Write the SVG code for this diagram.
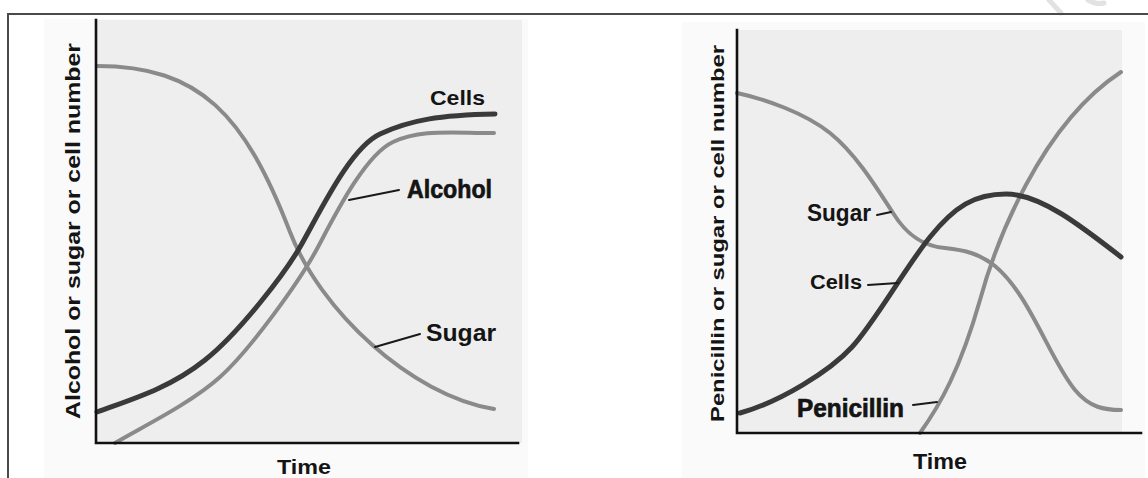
<svg xmlns="http://www.w3.org/2000/svg" width="1148" height="478" viewBox="0 0 1148 478">
  <style>
    .lbl { font-family: "Liberation Sans", Arial, sans-serif; font-weight: bold; fill: #141414; }
    .heavy { stroke: #141414; stroke-width: 0.7; }
    .axis { stroke: #111; stroke-width: 2.6; fill: none; stroke-linecap: square; }
    .dark { stroke: #3a3a3a; stroke-width: 5; fill: none; stroke-linecap: round; stroke-linejoin: round; }
    .light { stroke: #8a8a8a; stroke-width: 4; fill: none; stroke-linecap: round; stroke-linejoin: round; }
    .leader { stroke: #1a1a1a; stroke-width: 2; fill: none; stroke-linecap: round; }
    .faint { stroke: #e2e2e2; stroke-width: 5; fill: none; stroke-linecap: round; }
  </style>
  <rect x="0" y="0" width="1148" height="478" fill="#ffffff"/>
  <!-- faint marks at top right -->
  <g id="marks">
    <path class="faint" d="M1049,0 L1061,13"/>
    <path class="faint" stroke-width="4" d="M1088,0 Q1097,5 1104,3"/>
  </g>
  <!-- frame -->
  <g id="frame">
    <path d="M8,478 L8,14 L1148,14" stroke="#4a4a4a" stroke-width="2" fill="none"/>
  </g>

  <!-- LEFT CHART -->
  <g id="left-chart">
    <rect x="44" y="19" width="484" height="459" fill="#fafafa"/>
    <rect x="96" y="20" width="426" height="423" fill="#eeeeee"/>
    <g id="left-curves">
      <path id="left-sugar" class="light" d="M97,66 C200,66 245,115 290,232 C320,310 410,395 494,409"/>
      <path id="left-alcohol" class="light" d="M115,443 C140,428 190,404 220,377 C250,350 300,281 318,247 C335,215 365,155 393,142 C420,129 450,133 494,133"/>
      <path id="left-cells" class="dark" d="M97,412 C133,399 170,388 205,360 C240,332 285,273 300,247 C320,212 350,148 380,134 C410,120 440,115 495,114"/>
    </g>
    <g id="left-axes">
      <path class="axis" d="M96,20 L96,443 L518,443"/>
    </g>
    <g id="left-leaders">
      <line class="leader" x1="349" y1="200" x2="399" y2="190"/>
      <line class="leader" x1="375" y1="347" x2="420" y2="334"/>
    </g>
    <g id="left-labels">
      <text class="lbl" x="430" y="105" font-size="21" textLength="55" lengthAdjust="spacingAndGlyphs">Cells</text>
      <text class="lbl heavy" x="407" y="198" font-size="26" textLength="85" lengthAdjust="spacingAndGlyphs">Alcohol</text>
      <text class="lbl" x="426" y="341" font-size="24" textLength="70" lengthAdjust="spacingAndGlyphs">Sugar</text>
      <text class="lbl" x="277" y="474" font-size="21" textLength="54" lengthAdjust="spacingAndGlyphs">Time</text>
      <text class="lbl" transform="translate(80,419) rotate(-90)" x="0" y="0" font-size="20" textLength="376" lengthAdjust="spacingAndGlyphs">Alcohol or sugar or cell number</text>
    </g>
  </g>

  <!-- RIGHT CHART -->
  <g id="right-chart">
    <rect x="682" y="22" width="463" height="456" fill="#fafafa"/>
    <rect x="737" y="30" width="385" height="403" fill="#eeeeee"/>
    <g id="right-curves">
      <path id="right-sugar" class="light" d="M737,93 C765,99 805,113 830,133 C855,153 875,185 893,213 C903,229 918,246 945,248 C965,250 980,254 995,266 C1030,295 1050,360 1075,390 C1090,408 1105,410 1121,410"/>
      <path id="right-penicillin" class="light" d="M920,433 C940,405 960,370 980,300 C995,245 1040,125 1121,72"/>
      <path id="right-cells" class="dark" d="M740,413 C780,402 830,371 852,347 C875,322 905,268 930,237 C955,206 975,194 1006,194 C1040,194 1080,225 1121,257"/>
    </g>
    <g id="right-axes">
      <path class="axis" d="M737,30 L737,433 L1141,433"/>
    </g>
    <g id="right-leaders">
      <line class="leader" x1="877" y1="215" x2="891" y2="212"/>
      <line class="leader" x1="868" y1="285" x2="898" y2="283"/>
      <line class="leader" x1="913" y1="405" x2="937" y2="402"/>
    </g>
    <g id="right-labels">
      <text class="lbl" x="807" y="221" font-size="23" textLength="64" lengthAdjust="spacingAndGlyphs">Sugar</text>
      <text class="lbl" x="810" y="289" font-size="20" textLength="52" lengthAdjust="spacingAndGlyphs">Cells</text>
      <text class="lbl heavy" x="797" y="417" font-size="25" textLength="107" lengthAdjust="spacingAndGlyphs">Penicillin</text>
      <text class="lbl" x="913" y="469" font-size="22" textLength="54" lengthAdjust="spacingAndGlyphs">Time</text>
      <text class="lbl" transform="translate(724,422) rotate(-90)" x="0" y="0" font-size="19" textLength="377" lengthAdjust="spacingAndGlyphs">Penicillin or sugar or cell number</text>
    </g>
  </g>
</svg>
